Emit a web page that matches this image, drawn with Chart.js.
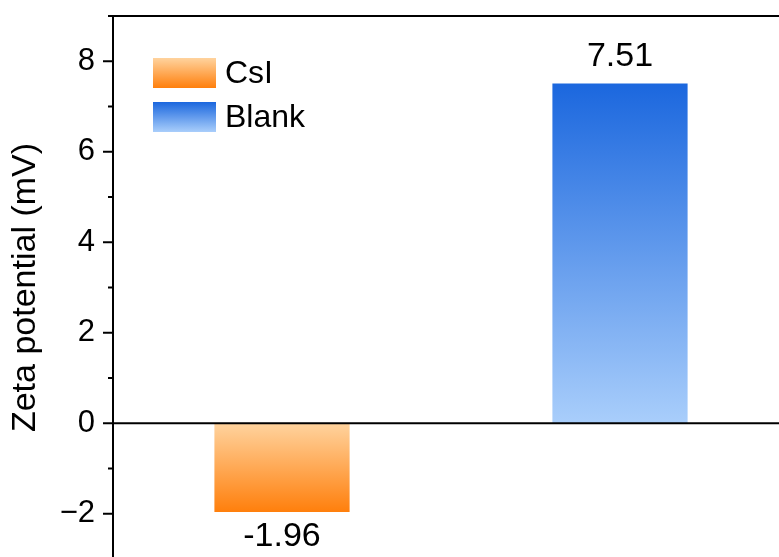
<!DOCTYPE html>
<html>
<head>
<meta charset="utf-8">
<script src="https://cdn.jsdelivr.net/npm/chart.js@4/dist/chart.umd.min.js"></script>
<style>
  html, body { margin: 0; padding: 0; background: #fff; overflow: hidden; }
  canvas { display: block; }
</style>
</head>
<body>
<canvas id="zeta" width="800" height="570"></canvas>
<script>
// Sample categories and measured zeta potentials (mV)
const categories = ['CsI', 'Blank'];
const csiValues = [-1.96, null];
const blankValues = [null, 7.51];
const yTickValues = [-2, 0, 2, 4, 6, 8];
const yRange = [-3, 9];

const FONT = "'Liberation Sans', Arial, Helvetica, sans-serif";
const shades = {
  CsI:   { light: '#FFD39E', dark: '#FF7F0C' },
  Blank: { light: '#A9CEFB', dark: '#1B67DE' }
};

// Gradient running from the zero line (light) to the bar end (dark)
function barFill(ctx, name) {
  const chart = ctx.chart;
  const y = chart.scales && chart.scales.y;
  if (!chart.chartArea || !y || ctx.raw == null) return shades[name].dark;
  const y0 = y.getPixelForValue(0);
  const y1 = y.getPixelForValue(ctx.raw);
  if (Math.abs(y1 - y0) < 1) return shades[name].dark;
  const g = chart.ctx.createLinearGradient(0, y0, 0, y1);
  g.addColorStop(0, shades[name].light);
  g.addColorStop(1, shades[name].dark);
  return g;
}

function fmtTick(v) {
  return v < 0 ? '\u2212' + Math.abs(v) : String(v);
}

// Frame line on top, zero line, major/minor tick marks, value labels, legend
const decorations = {
  id: 'decorations',
  afterDatasetsDraw(chart) {
    const { ctx, chartArea } = chart;
    const y = chart.scales.y;
    ctx.save();
    ctx.strokeStyle = '#000';
    ctx.lineWidth = 2;
    // zero line
    const yz = y.getPixelForValue(0);
    ctx.beginPath();
    ctx.moveTo(chartArea.left, yz);
    ctx.lineTo(chartArea.right, yz);
    ctx.stroke();
    // top frame
    ctx.beginPath();
    ctx.moveTo(chartArea.left - 1, chartArea.top);
    ctx.lineTo(chartArea.right, chartArea.top);
    ctx.stroke();
    // tick marks: long on labelled values, short in between
    for (let v = yRange[0]; v <= yRange[1]; v++) {
      const py = y.getPixelForValue(v);
      const len = yTickValues.includes(v) ? 10 : 5;
      ctx.beginPath();
      ctx.moveTo(chartArea.left - len, py);
      ctx.lineTo(chartArea.left, py);
      ctx.stroke();
    }
    // value labels
    ctx.fillStyle = '#000';
    ctx.font = '34px ' + FONT;
    ctx.textAlign = 'center';
    ctx.textBaseline = 'alphabetic';
    chart.data.datasets.forEach((ds, di) => {
      const meta = chart.getDatasetMeta(di);
      meta.data.forEach((el, i) => {
        const v = ds.data[i];
        if (v == null) return;
        const txt = v.toFixed(2);
        if (v >= 0) {
          ctx.fillText(txt, el.x, el.y - 17);
        } else {
          ctx.fillText(txt, el.x, el.y + 34);
        }
      });
    });
    // legend
    const bx = chartArea.left + 40, bw = 63, bh = 30;
    ctx.font = '32px ' + FONT;
    ctx.textAlign = 'left';
    ctx.textBaseline = 'middle';
    chart.data.datasets.forEach((ds, di) => {
      const top = chartArea.top + 42 + di * 44;
      const s = shades[ds.label];
      const g = ctx.createLinearGradient(0, top, 0, top + bh);
      if (di === 0) { g.addColorStop(0, s.light); g.addColorStop(1, s.dark); }
      else { g.addColorStop(0, s.dark); g.addColorStop(1, s.light); }
      ctx.fillStyle = g;
      ctx.fillRect(bx, top, bw, bh);
      ctx.fillStyle = '#000';
      ctx.fillText(ds.label, bx + bw + 9, top + bh / 2 + 1);
    });
    ctx.restore();
  }
};

new Chart(document.getElementById('zeta'), {
  type: 'bar',
  data: {
    labels: categories,
    datasets: [
      { label: 'CsI', data: csiValues, backgroundColor: c => barFill(c, 'CsI'), borderWidth: 0 },
      { label: 'Blank', data: blankValues, backgroundColor: c => barFill(c, 'Blank'), borderWidth: 0 }
    ]
  },
  options: {
    responsive: false,
    animation: false,
    layout: { padding: { top: 16, right: 11, bottom: 11, left: 0 } },
    datasets: { bar: { grouped: false, barPercentage: 0.4, categoryPercentage: 1 } },
    plugins: { legend: { display: false }, tooltip: { enabled: false } },
    scales: {
      x: { display: false },
      y: {
        min: yRange[0],
        max: yRange[1],
        afterFit(scale) {
          scale.width = 113;
          scale.paddingTop = 0;
          scale.paddingBottom = 0;
        },
        border: { display: true, color: '#000', width: 2 },
        grid: { display: false, drawTicks: false },
        ticks: {
          stepSize: 1,
          padding: 18,
          color: '#000',
          font: { family: FONT, size: 31 },
          callback: v => (yTickValues.includes(v) ? fmtTick(v) : null)
        },
        title: {
          display: true,
          text: 'Zeta potential (mV)',
          color: '#000',
          font: { family: FONT, size: 34 },
          padding: { top: 5, bottom: 0 }
        }
      }
    }
  },
  plugins: [decorations]
});
</script>
</body>
</html>
